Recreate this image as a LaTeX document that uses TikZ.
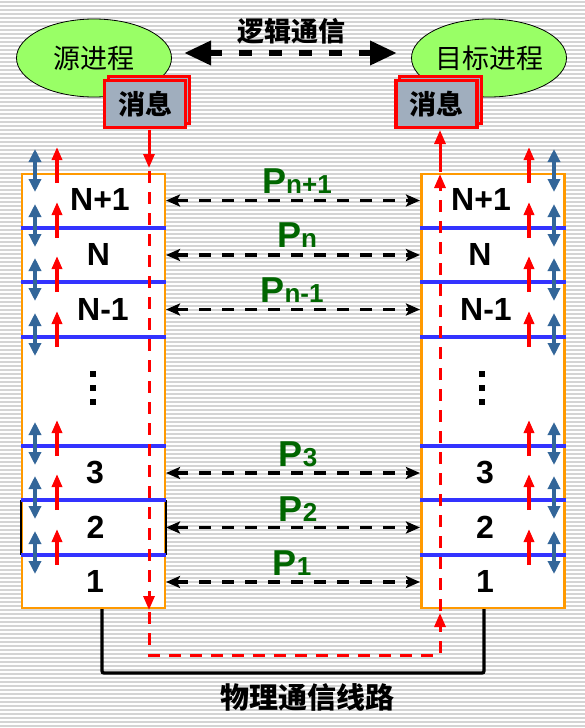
\documentclass[tikz,border=0pt]{standalone}
\usepackage{fontspec}
\setmainfont{Liberation Sans}
\newfontfamily\cjk{Noto Sans CJK SC}
\usetikzlibrary{arrows.meta,shapes.geometric}
\definecolor{bgline}{RGB}{212,212,212}
\definecolor{orng}{RGB}{255,153,0}
\definecolor{lblue}{RGB}{51,51,255}
\definecolor{sblue}{RGB}{51,102,153}
\definecolor{pgreen}{RGB}{0,102,0}
\definecolor{egreen}{RGB}{153,255,102}
\definecolor{msgfill}{RGB}{160,174,190}
\begin{document}
\begin{tikzpicture}[x=1pt,y=-1pt,
  bgstripe/.style={draw=bgline,line width=1.3pt},
  proc/.style={ellipse,draw=black,line width=0.8pt,fill=egreen,inner sep=0pt,minimum width=155pt,minimum height=78pt,font=\cjk\fontsize{27}{27}\selectfont},
  msgbox/.style={rectangle,draw=red,line width=3.2pt,fill=msgfill,inner sep=0pt,minimum width=81pt,minimum height=47pt,font=\cjk\bfseries\fontsize{27}{27}\selectfont},
  msgback/.style={draw=red,line width=3.2pt,fill=msgfill},
  stackbox/.style={rectangle,draw=orng,line width=2.2pt,fill=white,minimum width=143pt,minimum height=434pt,inner sep=0pt},
  layertext/.style={font=\bfseries\fontsize{32}{32}\selectfont,inner sep=0pt},
  plabel/.style={text=pgreen,font=\bfseries,inner sep=0pt,anchor=base},
  parrow/.style={draw=black,line width=3.3pt,dash pattern=on 12pt off 11pt,{Stealth[length=14pt,width=12pt,inset=3pt]}-{Stealth[length=14pt,width=12pt,inset=3pt]}},
  logic/.style={draw=black,line width=6.5pt,dash pattern=on 13pt off 17pt,{Triangle[length=27pt,width=23pt]}-{Triangle[length=27pt,width=23pt]}},
  blueline/.style={draw=lblue,line width=3.5pt},
  bluedbl/.style={draw=sblue,line width=3.3pt,{Triangle[length=13pt,width=12pt]}-{Triangle[length=13pt,width=12pt]}},
  redup/.style={draw=red,line width=3.3pt,-{Triangle[length=13pt,width=10pt]}},
  redsolid/.style={draw=red,line width=3pt,-{Triangle[length=14pt,width=11pt]}},
  reddash/.style={draw=red,line width=3pt,dash pattern=on 12pt off 9pt},
  redtip/.style={draw=red,line width=3pt,-{Triangle[length=14pt,width=11pt]}},
  physline/.style={draw=black,line width=3.3pt,rounded corners=2pt},
  cjkbold/.style={font=\cjk\bfseries\fontsize{#1}{#1}\selectfont,inner sep=0pt}
]
\useasboundingbox (0,0) rectangle (585,728);
\fill[white] (0,0) rectangle (585,728);
\foreach \yy in {2,6,...,726} \draw[bgstripe] (0,\yy) -- (585,\yy);

% processes
\node[proc] (src) at (94,58) {源进程};
\node[proc] (dst) at (489,58) {目标进程};
\node[cjkbold=27] (logtext) at (291,31) {逻辑通信};
\coordinate (la) at (184,53);
\coordinate (lb) at (397,53);
\draw[logic] (la) -- (lb);

% message boxes
\draw[msgback] (108.5,76.5) rectangle (189.5,123.5);
\node[msgbox] (lmsg) at (145,104) {消息};
\draw[msgback] (399.5,76.5) rectangle (481.5,123.5);
\node[msgbox] (rmsg) at (436.5,104) {消息};

% physical line
\coordinate (ph1) at (102,609);
\coordinate (ph2) at (102,673);
\coordinate (ph3) at (484,673);
\coordinate (ph4) at (484,609);
\draw[physline] (ph1) -- (ph2) -- (ph3) -- (ph4);
\node[cjkbold=29] (phys) at (307,697) {物理通信线路};

% stacks
\node[stackbox] (L) at (93.5,391) {};
\node[stackbox] (R) at (493,391) {};
\draw[black,line width=2.2pt] (21,500) -- (21,555) (166,500) -- (166,555);
\foreach \yy in {228,282,337,446,500,555} {
  \draw[blueline] (21,\yy) -- (166,\yy);
  \draw[blueline] (420,\yy) -- (566,\yy);
}

% layer labels
\node[layertext] (L7) at (100,199.5) {N+1};
\node[layertext] (L6) at (98.5,254.5) {N};
\node[layertext] (L5) at (103,309) {N-1};
\node[layertext] (L3) at (95,472.5) {3};
\node[layertext] (L2) at (95.5,527) {2};
\node[layertext] (L1) at (95,581.5) {1};
\node[layertext] (R7) at (481,199.5) {N+1};
\node[layertext] (R6) at (480,254.5) {N};
\node[layertext] (R5) at (486,309) {N-1};
\node[layertext] (R3) at (485,472.5) {3};
\node[layertext] (R2) at (485,527) {2};
\node[layertext] (R1) at (485,581.5) {1};
\foreach \yy in {374,388,402} {
  \fill[black] (90,\yy-3) rectangle (96,\yy+3);
  \fill[black] (479,\yy-3) rectangle (485,\yy+3);
}

% small arrows at boundaries
\foreach \b in {173,228,282,337,446,500,555} {
  \draw[bluedbl] (35,\b-24) -- (35,\b+19);
  \draw[redup] (57,\b+10) -- (57,\b-26);
  \draw[redup] (529,\b+10) -- (529,\b-26);
  \draw[bluedbl] (554,\b-24) -- (554,\b+19);
}

% peer protocol arrows
\foreach \n/\yy in {7/200.5,6/255,5/309.5,3/473,2/527.5,1/582} {
  \coordinate (pl\n) at (166,\yy);
  \coordinate (pr\n) at (420,\yy);
  \draw[parrow] (pl\n) -- (pr\n);
}
\node[plabel] (P7) at (297,193) {{\fontsize{36}{36}\selectfont P}{\fontsize{26}{26}\selectfont n+1}};
\node[plabel] (P6) at (297,247.5) {{\fontsize{36}{36}\selectfont P}{\fontsize{26}{26}\selectfont n}};
\node[plabel] (P5) at (292,302) {{\fontsize{36}{36}\selectfont P}{\fontsize{26}{26}\selectfont n-1}};
\node[plabel] (P3) at (298,466.5) {{\fontsize{36}{36}\selectfont P}{\fontsize{26}{26}\selectfont 3}};
\node[plabel] (P2) at (298,521) {{\fontsize{36}{36}\selectfont P}{\fontsize{26}{26}\selectfont 2}};
\node[plabel] (P1) at (292,575.5) {{\fontsize{36}{36}\selectfont P}{\fontsize{26}{26}\selectfont 1}};

% red data path
\coordinate (r0) at (149,129.5);
\coordinate (r1) at (149,168);
\coordinate (r2) at (149,171);
\coordinate (r3) at (149,655);
\coordinate (r4) at (440,655);
\coordinate (r5) at (440,176);
\coordinate (r6) at (440,172);
\coordinate (r7) at (440,130);
\draw[redsolid] (r0) -- (r1);
\draw[reddash] (r2) -- (r3) -- (r4) -- (r5);
\draw[redtip] (149,596) -- (149,610);
\draw[redtip] (440,628) -- (440,613);
\draw[redtip] (440,190) -- (440,174);
\draw[redsolid] (r6) -- (r7);
\end{tikzpicture}
\end{document}
